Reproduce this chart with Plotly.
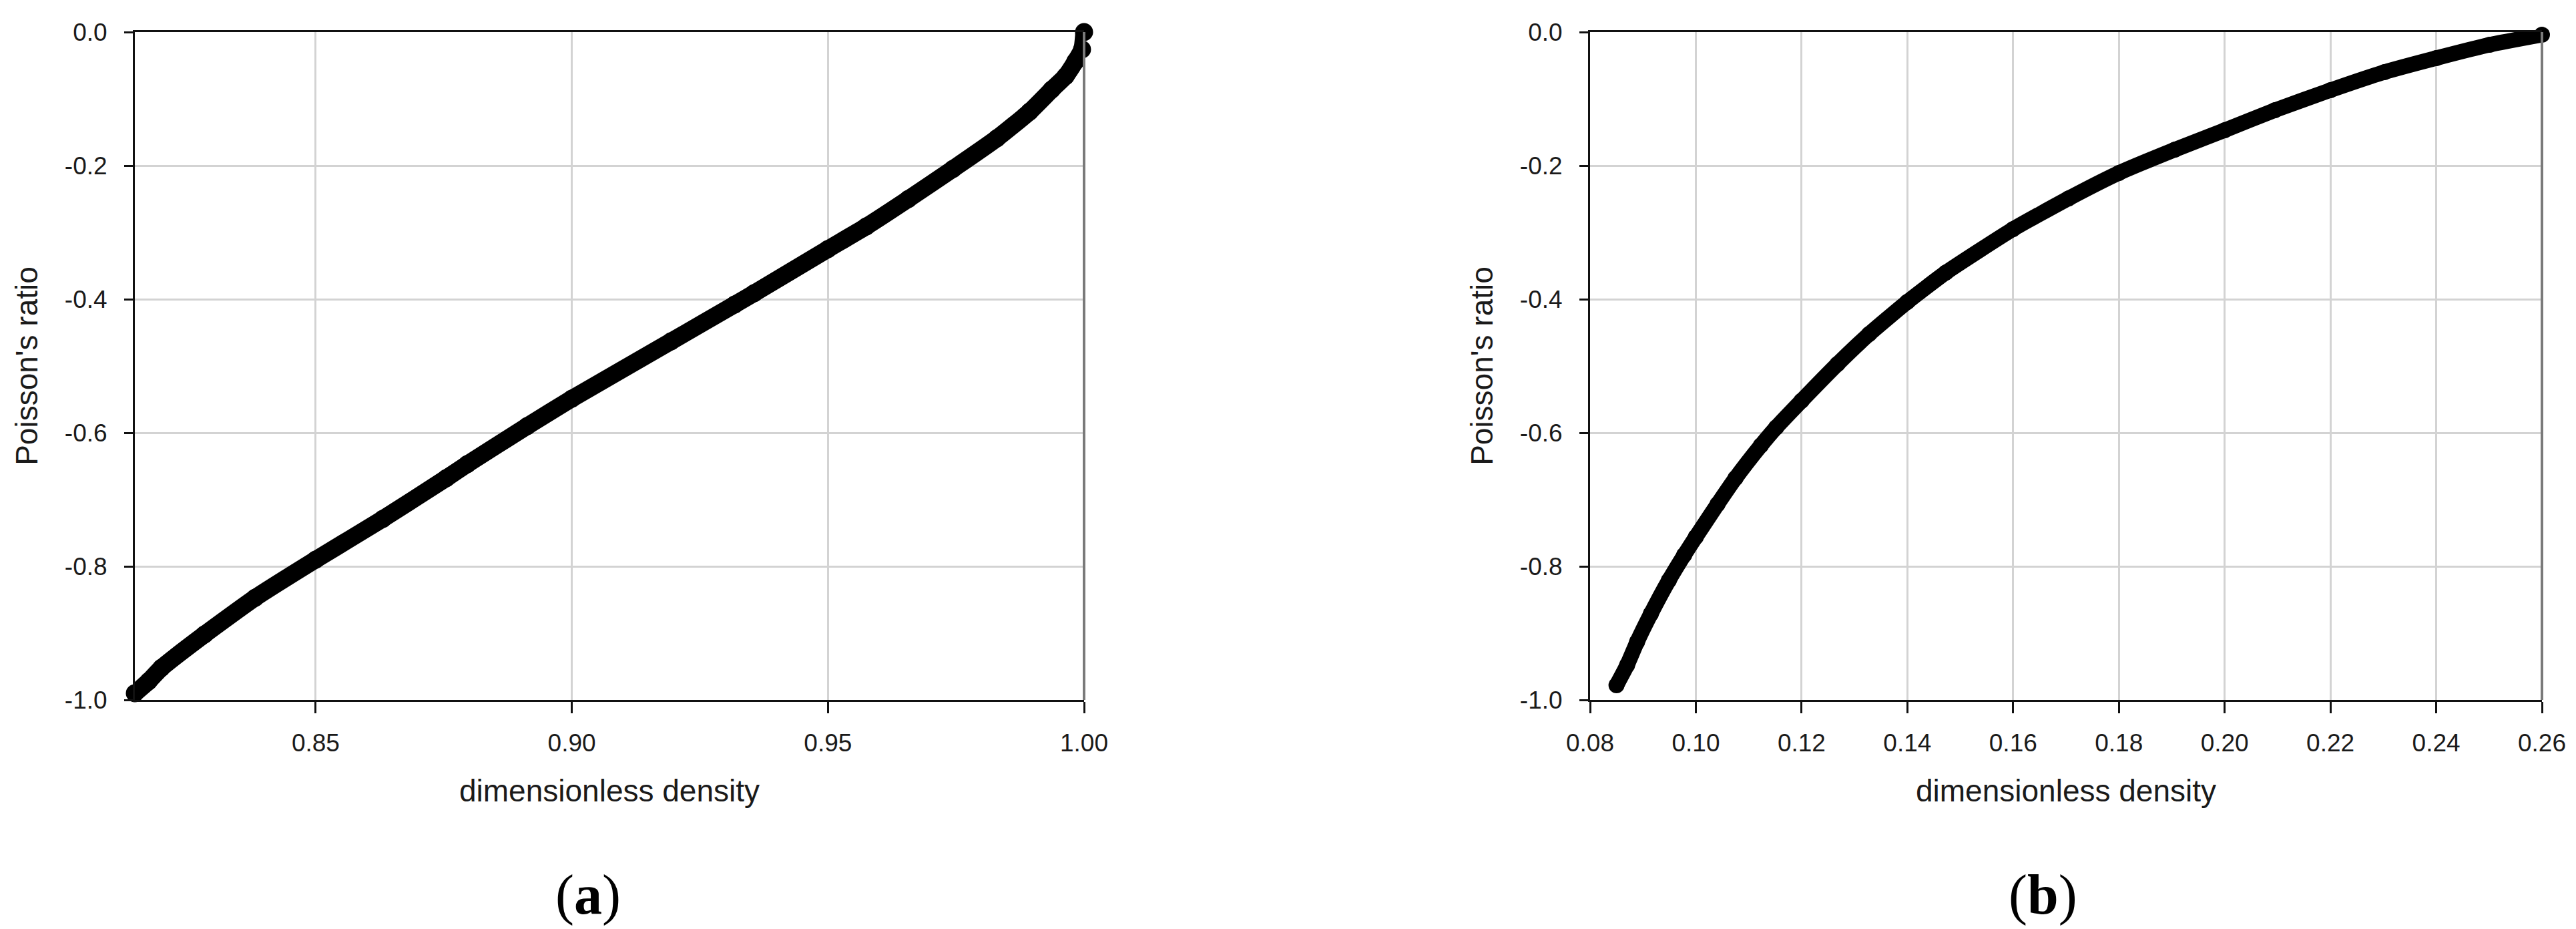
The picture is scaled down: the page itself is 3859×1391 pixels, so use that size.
import plotly.graph_objects as go

# ---------------- data ----------------
density_a = [0.8147, 0.8174, 0.8199, 0.8283, 0.8382, 0.8500, 0.8631, 0.8755,
             0.8796, 0.8913, 0.9000, 0.9194, 0.9318, 0.9356, 0.9500, 0.9575,
             0.9657, 0.9744, 0.9830, 0.9894, 0.9937, 0.9964, 0.9983, 0.9996, 1.0000]
poisson_a = [-0.990, -0.972, -0.952, -0.902, -0.847, -0.790, -0.729, -0.668,
             -0.647, -0.590, -0.549, -0.463, -0.408, -0.391, -0.325, -0.291,
             -0.250, -0.205, -0.159, -0.119, -0.086, -0.066, -0.044, -0.026, 0.000]

density_b = [0.0850, 0.0870, 0.0889, 0.0915, 0.0949, 0.0978, 0.1000, 0.1041,
             0.1075, 0.1123, 0.1152, 0.1200, 0.1268, 0.1328, 0.1400, 0.1473,
             0.1600, 0.1705, 0.1800, 0.1906, 0.2000, 0.2095, 0.2200, 0.2302,
             0.2400, 0.2501, 0.2600]
poisson_b = [-0.978, -0.948, -0.913, -0.871, -0.821, -0.783, -0.756, -0.707,
             -0.668, -0.619, -0.592, -0.552, -0.497, -0.452, -0.404, -0.360,
             -0.295, -0.249, -0.211, -0.176, -0.147, -0.117, -0.087, -0.060,
             -0.039, -0.019, -0.004]

xtick_vals_a = [0.85, 0.90, 0.95, 1.00]
xtick_text_a = ["0.85", "0.90", "0.95", "1.00"]
xtick_vals_b = [0.08, 0.10, 0.12, 0.14, 0.16, 0.18, 0.20, 0.22, 0.24, 0.26]
xtick_text_b = ["0.08", "0.10", "0.12", "0.14", "0.16", "0.18", "0.20", "0.22", "0.24", "0.26"]
ytick_vals = [0.0, -0.2, -0.4, -0.6, -0.8, -1.0]
ytick_text = ["0.0", "-0.2", "-0.4", "-0.6", "-0.8", "-1.0"]

x_title = "dimensionless density"
y_title = "Poisson's ratio"
panel_labels = ["(<b>a</b>)", "(<b>b</b>)"]

# ---------------- figure ----------------
W, H = 3859, 1391
SANS = "Liberation Sans, Arial, sans-serif"
SERIF = "Liberation Serif, Times New Roman, serif"
TXT = "#1a1a1a"

fig = go.Figure()
fig.add_trace(go.Scatter(
    x=density_a, y=poisson_a, mode="lines+markers",
    line=dict(color="black", width=26, shape="spline", smoothing=0.5),
    marker=dict(size=27, color="black"),
    cliponaxis=False, showlegend=False, xaxis="x", yaxis="y"))
fig.add_trace(go.Scatter(
    x=density_b, y=poisson_b, mode="lines+markers",
    line=dict(color="black", width=23, shape="spline", smoothing=0.5),
    marker=dict(size=24, color="black"),
    cliponaxis=False, showlegend=False, xaxis="x2", yaxis="y2"))

common = dict(
    showline=True, linecolor="#111111", linewidth=3,
    ticks="outside", tickcolor="#111111", tickwidth=3,
    showgrid=True, gridcolor="#d3d3d3", gridwidth=3,
    zeroline=False, automargin=False,
    tickfont=dict(family=SANS, size=37, color=TXT),
)

y_dom = [1 - 1048 / H, 1 - 48 / H]
xa_dom = [202 / W, 1624 / W]
xb_dom = [2382 / W, 3808 / W]

fig.update_layout(
    width=W, height=H,
    margin=dict(l=0, r=0, t=0, b=0, pad=0),
    paper_bgcolor="white", plot_bgcolor="white",
    xaxis=dict(common, domain=xa_dom, anchor="y", range=[0.8147, 1.0],
               tickvals=xtick_vals_a, ticktext=xtick_text_a, ticklen=17,
               mirror=True, ticklabelstandoff=13,
               title=dict(text=x_title, font=dict(family=SANS, size=46, color=TXT), standoff=36)),
    yaxis=dict(common, domain=y_dom, anchor="x", range=[-1.0, 0.0],
               tickvals=ytick_vals, ticktext=ytick_text, ticklen=13,
               ticklabelstandoff=18,
               title=dict(text=y_title, font=dict(family=SANS, size=46, color=TXT), standoff=26)),
    xaxis2=dict(common, domain=xb_dom, anchor="y2", range=[0.08, 0.26],
                tickvals=xtick_vals_b, ticktext=xtick_text_b, ticklen=17,
                mirror=True, ticklabelstandoff=13,
                title=dict(text=x_title, font=dict(family=SANS, size=46, color=TXT), standoff=36)),
    yaxis2=dict(common, domain=y_dom, anchor="x2", range=[-1.0, 0.0],
                tickvals=ytick_vals, ticktext=ytick_text, ticklen=13,
                ticklabelstandoff=18,
                title=dict(text=y_title, font=dict(family=SANS, size=46, color=TXT), standoff=26)),
)

# right-hand frame edges (grey) of both panels
for xr, yr in (("x domain", "y domain"), ("x2 domain", "y2 domain")):
    fig.add_shape(type="line", xref=xr, yref=yr, x0=1, x1=1, y0=0, y1=1,
                  line=dict(color="#7a7a7a", width=4), layer="above")

# panel labels
for label, xc in zip(panel_labels, (881 / W, 3060 / W)):
    fig.add_annotation(text=label, xref="paper", yref="paper", x=xc, y=1 - 1340 / H,
                       xanchor="center", yanchor="middle", showarrow=False,
                       font=dict(family=SERIF, size=84, color="black"))

fig.write_html("out.html", config={"displayModeBar": False},
               post_script="document.body.style.margin='0';document.body.style.overflow='hidden';")
